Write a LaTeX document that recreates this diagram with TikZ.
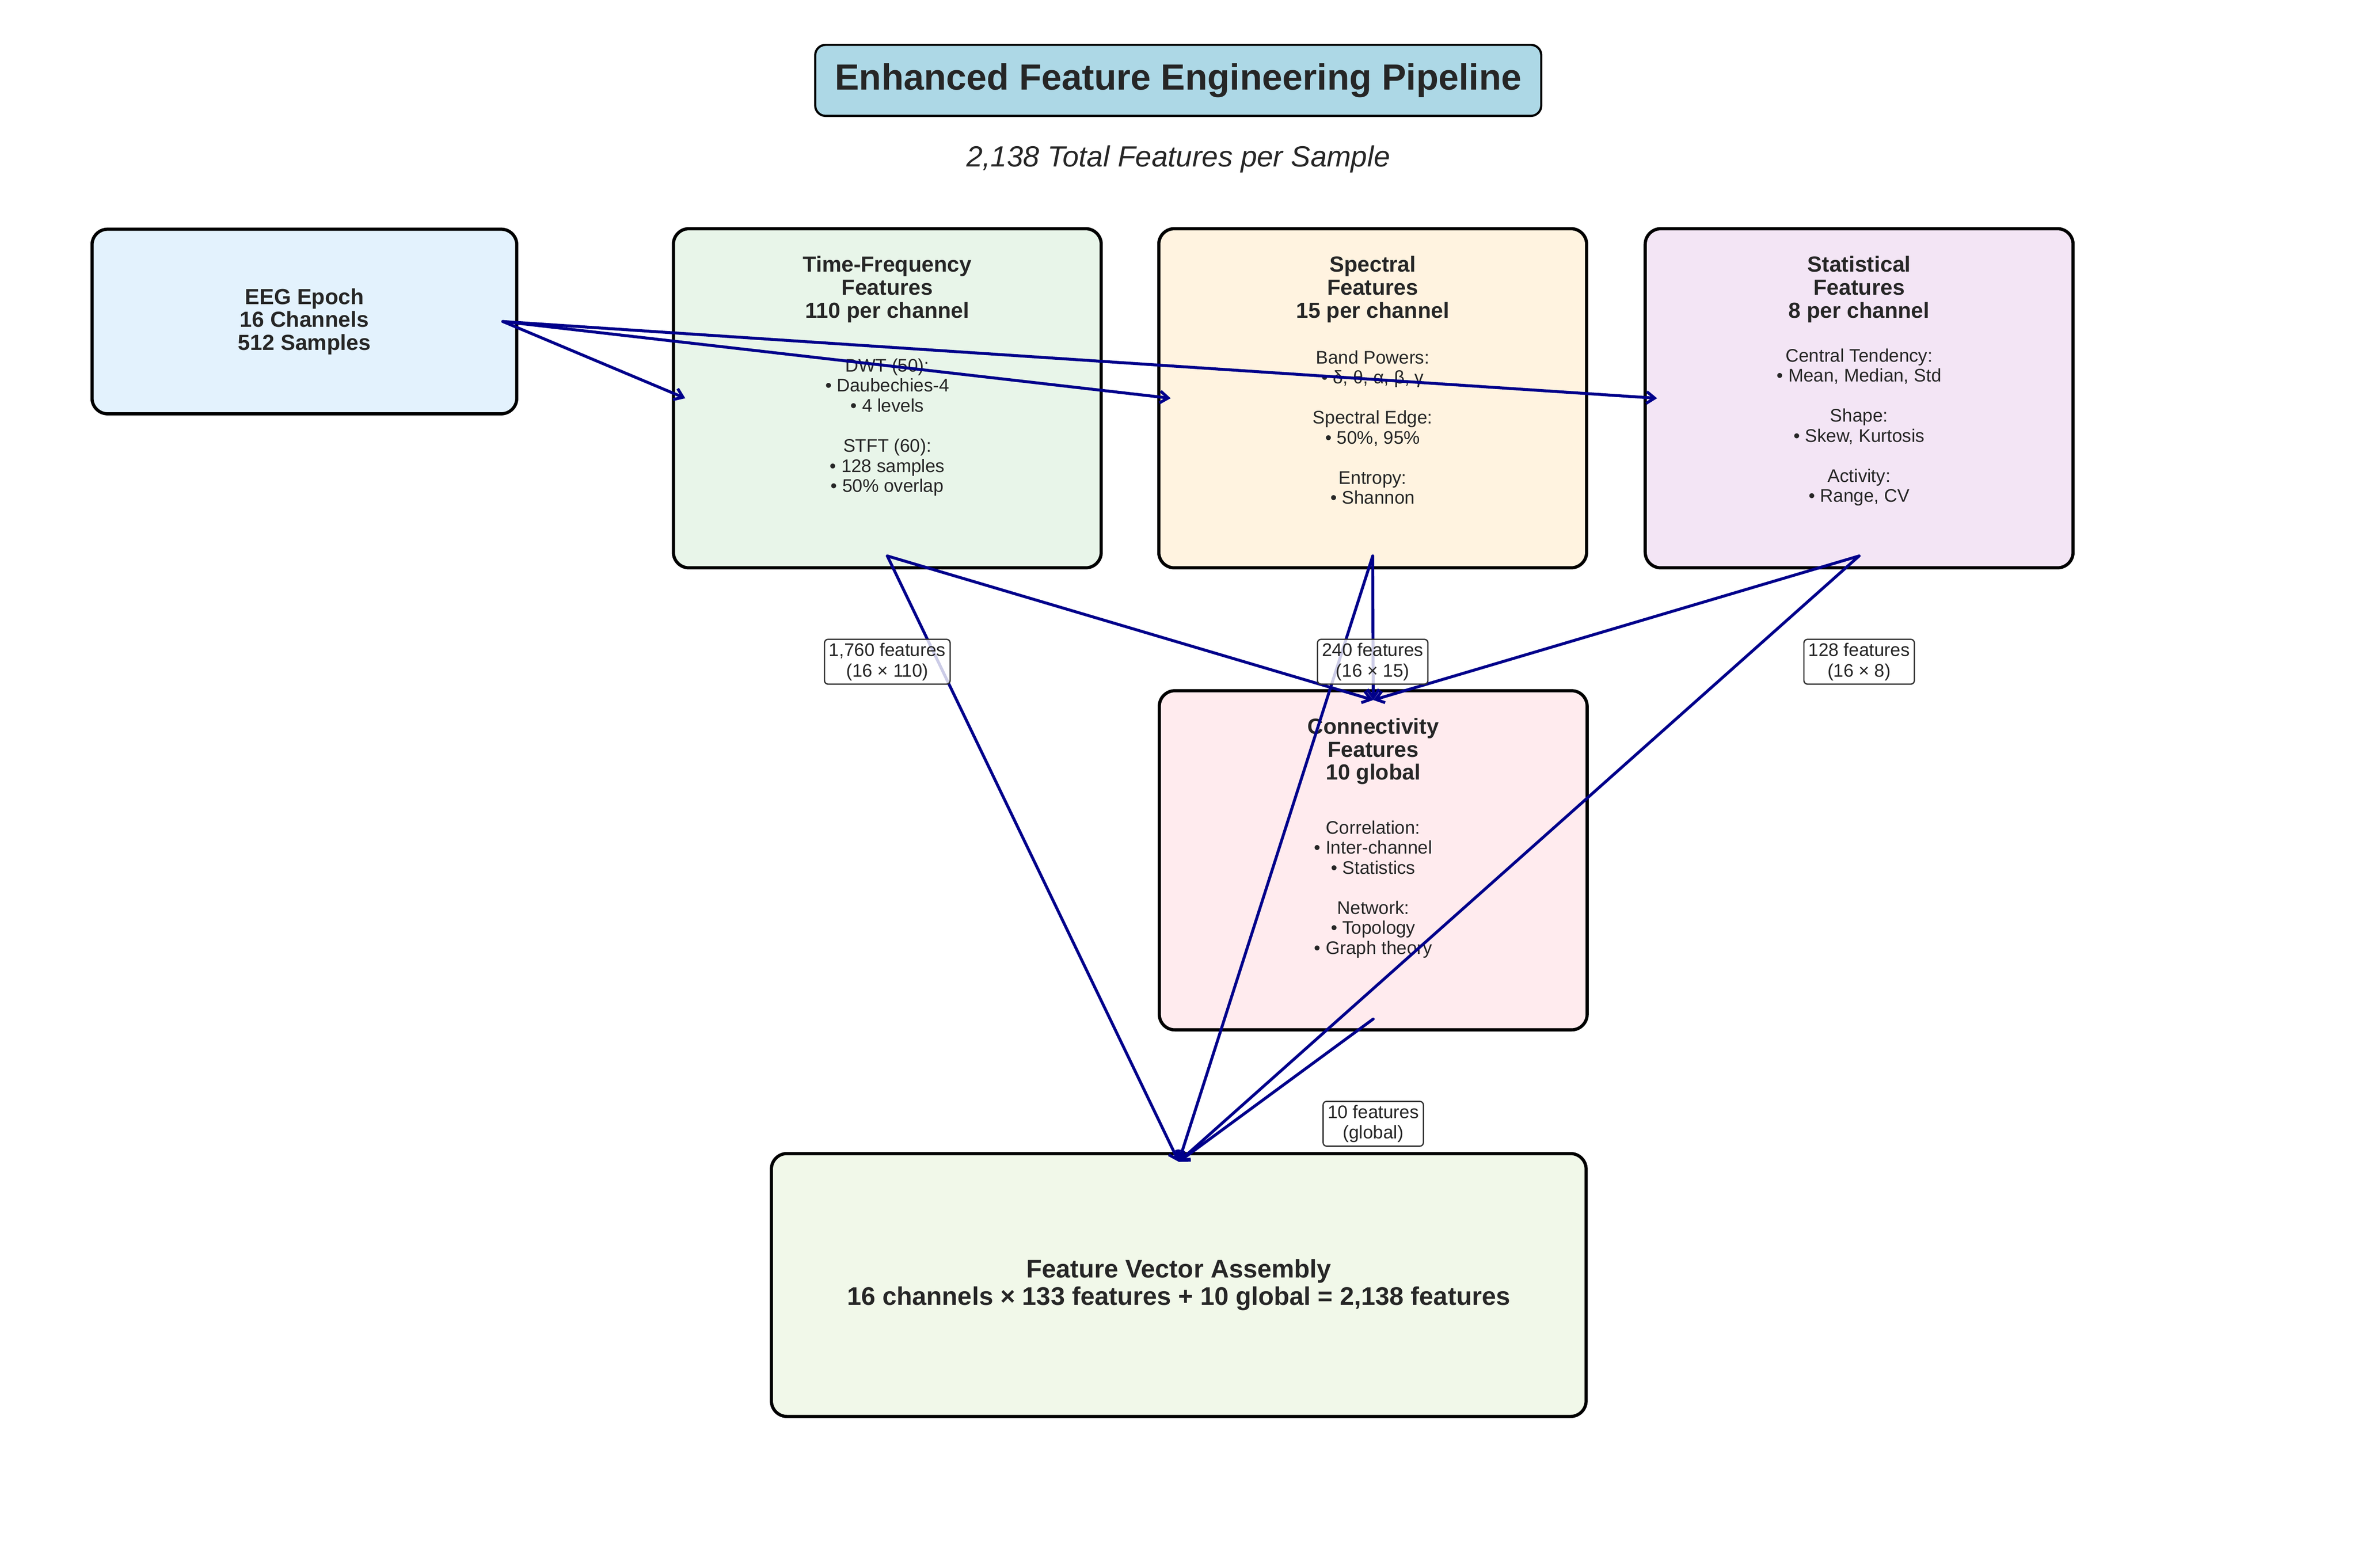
\documentclass[tikz,border=0pt]{standalone}
\usepackage{fontspec}
\setmainfont{Liberation Sans}
\usetikzlibrary{arrows.meta,positioning,calc}
\definecolor{txt}{HTML}{262626}
\definecolor{flowblue}{HTML}{00008B}
\definecolor{tagedge}{HTML}{333333}
\definecolor{titlecol}{HTML}{ADD8E6}
\definecolor{eegcol}{HTML}{E3F2FD}
\definecolor{tfcol}{HTML}{E8F5E9}
\definecolor{spcol}{HTML}{FFF3E0}
\definecolor{stcol}{HTML}{F3E5F5}
\definecolor{concol}{HTML}{FFEBEE}
\definecolor{veccol}{HTML}{F1F8E9}
\tikzset {>={Straight Barb[length=4.5pt,width=6.5pt]},
  box/.style={draw=black,line width=1.75pt,rounded corners=0.3cm,inner sep=0pt,
    minimum width=8.25cm,minimum height=6.54cm,text=txt,align=center},
  ttl/.style={font=\fontsize{12}{12.6}\selectfont\bfseries,align=center,text=txt},
  body/.style={font=\fontsize{10}{11}\selectfont,align=center,text=txt},
  flow/.style={->,draw=flowblue,line width=1.6pt,line cap=round,line join=round},
  tag/.style={draw=tagedge,line width=0.7pt,rounded corners=2pt,fill=white,
    fill opacity=0.8,text opacity=1,inner xsep=2.5pt,inner ysep=2pt,
    font=\fontsize{10}{11.3}\selectfont,align=center,text=txt}}
\begin{document}
\begin{tikzpicture}
\useasboundingbox (0,0) rectangle (45.47,-30.23);
\node[draw=black,line width=1.2pt,fill=titlecol,rounded corners=0.2cm,minimum width=14cm,
  minimum height=1.37cm,font=\fontsize{20}{24}\selectfont\bfseries,text=txt] (title) at (22.72,-1.55)
  {Enhanced Feature Engineering Pipeline};
\node[font=\fontsize{16}{19}\selectfont\itshape,text=txt] (sub) at (22.72,-3.065)
  {2,138 Total Features per Sample};
% input
\node[box,fill=eegcol,minimum width=8.19cm,minimum height=3.56cm,
  font=\fontsize{12}{12.6}\selectfont\bfseries] (eeg) at (5.87,-6.2)
  {EEG Epoch\\16 Channels\\512 Samples};
% feature groups
\foreach \n/\x/\col in {tf/17.11/tfcol,sp/26.47/spcol,st/35.85/stcol}
  \node[box,fill=\col] (\n) at (\x,-7.68) {};
\node[box,fill=concol] (con) at (26.48,-16.59) {};
\node[box,fill=veccol,minimum width=15.71cm,minimum height=5.07cm,
  font=\fontsize{14}{14.9}\selectfont\bfseries] (vec) at (22.73,-24.78)
  {Feature Vector Assembly\\16 channels × 133 features + 10 global = 2,138 features};
\node[ttl] (tf-t) at ([yshift=-1.2cm]tf.north) {Time-Frequency\\Features\\110 per channel};
\node[body] (tf-b) at ([yshift=-3.86cm]tf.north)
  {DWT (50):\\• Daubechies-4\\• 4 levels\\[11pt]STFT (60):\\• 128 samples\\• 50\% overlap};
\node[ttl] (sp-t) at ([yshift=-1.2cm]sp.north) {Spectral\\Features\\15 per channel};
\node[body] (sp-b) at ([yshift=-3.86cm]sp.north)
  {Band Powers:\\• δ, θ, α, β, γ\\[11pt]Spectral Edge:\\• 50\%, 95\%\\[11pt]Entropy:\\• Shannon};
\node[ttl] (st-t) at ([yshift=-1.2cm]st.north) {Statistical\\Features\\8 per channel};
\node[body] (st-b) at ([yshift=-3.86cm]st.north)
  {Central Tendency:\\• Mean, Median, Std\\[11pt]Shape:\\• Skew, Kurtosis\\[11pt]Activity:\\• Range, CV};
\node[ttl] (con-t) at ([yshift=-1.2cm]con.north) {Connectivity\\Features\\10 global};
\node[body] (con-b) at ([yshift=-3.86cm]con.north)
  {Correlation:\\• Inter-channel\\• Statistics\\[11pt]Network:\\• Topology\\• Graph theory};
% flows
\foreach \n in {tf,sp,st} {
  \draw[flow] ([xshift=-0.3cm]eeg.east) -- ([xshift=0.26cm]\n.west);
  \draw[flow] ([yshift=0.26cm]\n.south) -- ([yshift=-0.21cm]con.north);
  \draw[flow] ([yshift=0.26cm]\n.south) -- ([yshift=-0.19cm]vec.north);
}
\draw[flow] ([yshift=0.24cm]con.south) -- ([yshift=-0.19cm]vec.north);
% counts
\node[tag] (n-tf) at ([yshift=-1.78cm]tf.south) {1,760 features\\(16 × 110)};
\node[tag] (n-sp) at ([yshift=-1.78cm]sp.south) {240 features\\(16 × 15)};
\node[tag] (n-st) at ([yshift=-1.78cm]st.south) {128 features\\(16 × 8)};
\node[tag] (n-con) at ([yshift=-1.78cm]con.south) {10 features\\(global)};
\end{tikzpicture}
\end{document}
